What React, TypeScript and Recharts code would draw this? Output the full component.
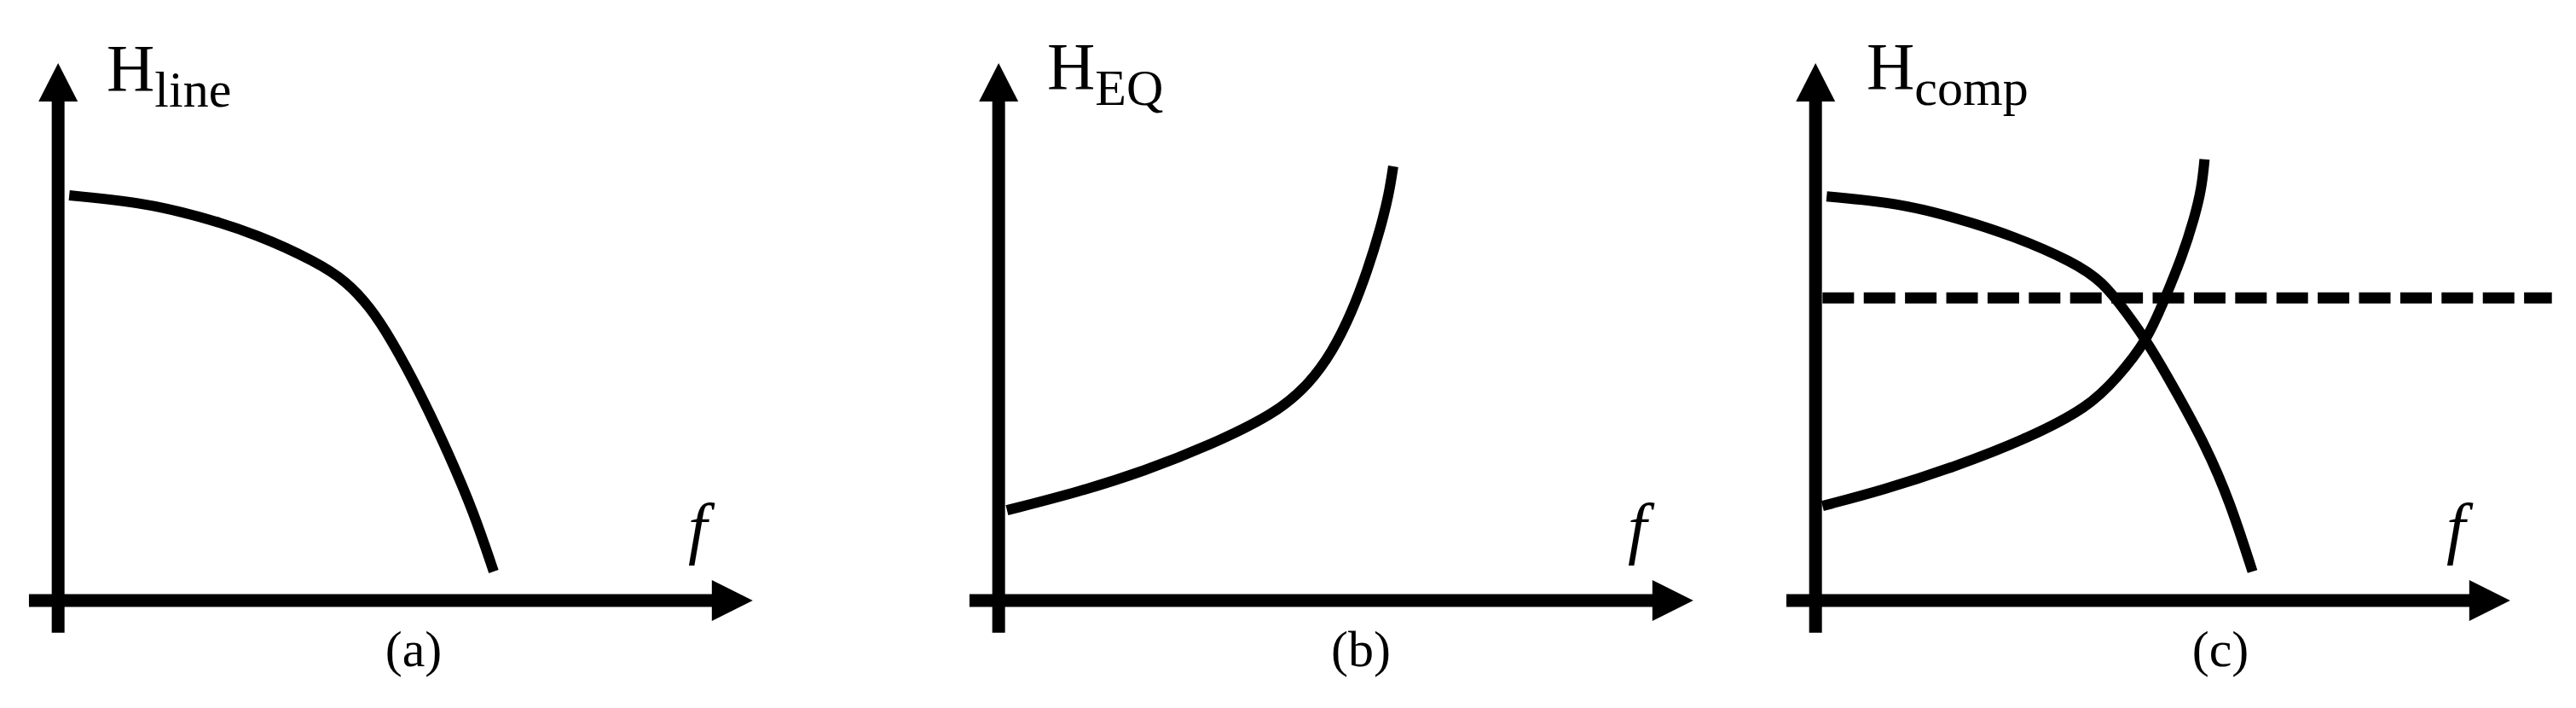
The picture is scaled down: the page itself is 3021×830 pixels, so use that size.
import React from 'react'
import { ComposedChart, Line, Scatter, XAxis, YAxis, ReferenceLine } from 'recharts'

// curve samples, in axis units (x: f, y: H), arrow tips at 100
const hLinePoints = [
  { x: 1.6, y: 75.4 }, { x: 11.8, y: 74.1 }, { x: 20.2, y: 71.6 }, { x: 28.7, y: 68.1 },
  { x: 37.2, y: 63.0 }, { x: 41.5, y: 59.4 }, { x: 44.9, y: 54.6 }, { x: 47.9, y: 48.7 },
  { x: 52.1, y: 38.7 }, { x: 56.3, y: 27.1 }, { x: 59.8, y: 16.5 }, { x: 62.7, y: 5.4 },
]

const hEqPoints = [
  { x: 1.2, y: 16.8 }, { x: 11.5, y: 20.2 }, { x: 21.0, y: 24.1 }, { x: 30.4, y: 28.9 },
  { x: 39.9, y: 34.8 }, { x: 44.7, y: 40.3 }, { x: 48.0, y: 46.2 }, { x: 50.8, y: 53.5 },
  { x: 53.1, y: 61.4 }, { x: 55.0, y: 69.4 }, { x: 56.2, y: 75.7 }, { x: 56.8, y: 80.8 },
]

const compLinePoints = [
  { x: 1.6, y: 75.2 }, { x: 11.7, y: 74.0 }, { x: 20.1, y: 71.3 }, { x: 28.6, y: 67.8 },
  { x: 37.1, y: 63.0 }, { x: 41.3, y: 59.4 }, { x: 44.8, y: 53.5 }, { x: 47.7, y: 48.3 },
  { x: 52.0, y: 38.7 }, { x: 56.2, y: 28.7 }, { x: 59.6, y: 18.6 }, { x: 62.9, y: 5.4 },
]

const compEqPoints = [
  { x: 1.0, y: 17.6 }, { x: 9.6, y: 20.5 }, { x: 20.1, y: 24.9 }, { x: 30.8, y: 30.3 },
  { x: 39.3, y: 36.0 }, { x: 43.4, y: 41.4 }, { x: 47.7, y: 48.3 }, { x: 50.3, y: 56.2 },
  { x: 52.8, y: 64.1 }, { x: 54.5, y: 71.0 }, { x: 55.6, y: 76.8 }, { x: 56.0, y: 82.1 },
]

const compLevel = 56.3
const compLevelRange = [1, 106]

// axes: tips of the arrows and the stubs past the origin
const xArrowTip = [{ x: 100, y: 0 }]
const yArrowTip = [{ x: 0, y: 100 }]
const xAxisStart = -4.2
const yAxisStart = -6

const panelLabels = [
  { main: 'H', sub: 'line', caption: '(a)' },
  { main: 'H', sub: 'EQ', caption: '(b)' },
  { main: 'H', sub: 'comp', caption: '(c)' },
]

const X_DOMAIN: [number, number] = [-8, 108]
const Y_DOMAIN: [number, number] = [-20, 111.75]
const W = 945
const H = 830
const FONT = "'Liberation Serif', 'DejaVu Serif', serif"

const xHead = (props: any) => {
  const { cx, cy } = props
  return <path d={`M${cx},${cy} L${cx - 48},${cy - 24} L${cx - 48},${cy + 24} Z`} fill="#000" />
}

const yHead = (props: any) => {
  const { cx, cy } = props
  return <path d={`M${cx},${cy} L${cx - 23},${cy + 45} L${cx + 23},${cy + 45} Z`} fill="#000" />
}

interface PanelProps {
  left: number
  curves: { x: number; y: number }[][]
  label: { main: string; sub: string; caption: string }
  hX: number
  hY: number
  fX: number
  capX: number
  dashed?: boolean
}

function Panel({ left, curves, label, hX, hY, fX, capX, dashed }: PanelProps) {
  return (
    <div style={{ position: 'absolute', left, top: 0, width: W, height: H }}>
      <ComposedChart width={W} height={H} margin={{ top: 0, right: 0, bottom: 0, left: 0 }}>
        <XAxis type="number" dataKey="x" domain={X_DOMAIN} hide allowDataOverflow />
        <YAxis type="number" dataKey="y" domain={Y_DOMAIN} hide allowDataOverflow />
        <ReferenceLine
          segment={[{ x: xAxisStart, y: 0 }, { x: 95, y: 0 }]}
          stroke="#000"
          strokeWidth={15}
        />
        <ReferenceLine
          segment={[{ x: 0, y: yAxisStart }, { x: 0, y: 94 }]}
          stroke="#000"
          strokeWidth={15}
        />
        {dashed && (
          <ReferenceLine
            segment={[{ x: compLevelRange[0], y: compLevel }, { x: compLevelRange[1], y: compLevel }]}
            stroke="#000"
            strokeWidth={13}
            strokeDasharray="37 11.4"
          />
        )}
        {curves.map((pts, i) => (
          <Line
            key={i}
            data={pts}
            dataKey="y"
            type="basis"
            stroke="#000"
            strokeWidth={12}
            dot={false}
            activeDot={false}
            isAnimationActive={false}
          />
        ))}
        <Scatter data={xArrowTip} dataKey="y" shape={xHead} isAnimationActive={false} />
        <Scatter data={yArrowTip} dataKey="y" shape={yHead} isAnimationActive={false} />
        <text x={hX} y={hY} fontFamily={FONT} fontSize={78} fill="#000">
          {label.main}
          <tspan fontSize={60} dy={19}>{label.sub}</tspan>
        </text>
        <text x={fX} y={646} fontFamily={FONT} fontSize={80} fontStyle="italic" textAnchor="middle" fill="#000">
          f
        </text>
        <text x={capX} y={781} fontFamily={FONT} fontSize={60} textAnchor="middle" fill="#000">
          {label.caption}
        </text>
      </ComposedChart>
    </div>
  )
}

export default function App() {
  return (
    <div style={{ position: 'absolute', left: 0, top: 0, width: 3021, height: 830, background: '#fff', overflow: 'hidden' }}>
      <Panel left={3} curves={[hLinePoints]} label={panelLabels[0]} hX={122} hY={106} fX={815} capX={482} />
      <Panel left={1106} curves={[hEqPoints]} label={panelLabels[1]} hX={122} hY={104} fX={814} capX={490} />
      <Panel
        left={2064}
        curves={[compLinePoints, compEqPoints]}
        label={panelLabels[2]}
        hX={125}
        hY={104}
        fX={816}
        capX={540}
        dashed
      />
    </div>
  )
}
